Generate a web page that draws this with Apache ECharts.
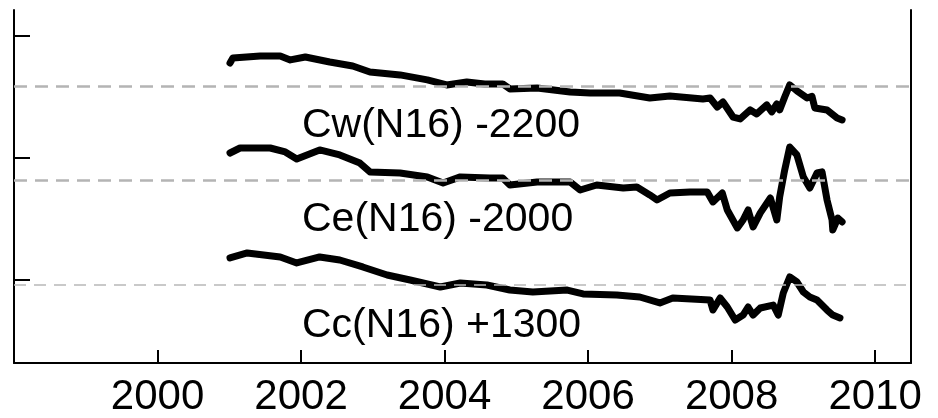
<!DOCTYPE html>
<html>
<head>
<meta charset="utf-8">
<script src="https://cdn.jsdelivr.net/npm/echarts@6/dist/echarts.min.js"></script>
<style>
html,body{margin:0;padding:0;background:#fff;}
#chart{width:938px;height:418px;}
</style>
</head>
<body>
<div id="chart"></div>
<script>
// Series: [decimal year, offset value]
var cwData = [
  [2001.01,277.9],[2001.05,282.0],[2001.43,283.6],[2001.71,283.6],[2001.85,280.4],
  [2002.06,282.8],[2002.40,278.7],[2002.72,275.4],[2002.96,270.5],[2003.38,268.1],
  [2003.76,264.0],[2004.03,259.9],[2004.31,262.3],[2004.56,260.7],[2004.81,260.7],
  [2004.91,256.6],[2005.29,257.4],[2005.75,254.1],[2006.03,253.3],[2006.44,253.3],
  [2006.86,249.2],[2007.14,250.9],[2007.60,248.4],[2007.70,249.2],[2007.80,241.8],
  [2007.88,245.9],[2008.02,233.6],[2008.12,232.0],[2008.26,239.4],[2008.35,236.1],
  [2008.49,243.5],[2008.56,237.8],[2008.63,244.3],[2008.67,239.4],[2008.74,250.0],
  [2008.81,259.9],[2008.91,255.0],[2009.05,249.2],[2009.12,250.5],[2009.16,241.0],
  [2009.33,239.4],[2009.40,236.1],[2009.47,232.8],[2009.54,231.2]
];
var ceData = [
  [2001.01,204.1],[2001.15,208.2],[2001.57,208.2],[2001.78,205.0],[2001.94,199.2],
  [2002.26,206.6],[2002.54,202.5],[2002.82,195.9],[2002.96,188.6],[2003.38,187.7],
  [2003.76,184.5],[2003.98,179.5],[2004.22,184.5],[2004.63,183.6],[2004.81,183.6],
  [2004.91,177.9],[2005.29,180.4],[2005.75,180.4],[2005.89,173.8],[2006.12,177.9],
  [2006.49,175.4],[2006.68,176.3],[2006.86,169.7],[2006.96,165.6],[2007.14,171.3],
  [2007.42,172.2],[2007.66,172.2],[2007.74,164.0],[2007.87,171.3],[2007.94,157.4],
  [2008.08,142.7],[2008.16,149.2],[2008.23,157.4],[2008.30,143.5],[2008.40,155.0],
  [2008.54,167.2],[2008.63,149.2],[2008.67,168.1],[2008.74,190.2],[2008.81,209.0],
  [2008.91,202.5],[2009.00,184.5],[2009.09,175.4],[2009.19,187.7],[2009.26,188.6],
  [2009.33,165.6],[2009.40,149.2],[2009.41,141.0],[2009.48,150.8],[2009.54,147.6]
];
var ccData = [
  [2001.01,118.1],[2001.25,122.2],[2001.71,118.9],[2001.94,114.0],[2002.26,118.9],
  [2002.54,116.4],[2002.86,110.7],[2003.20,104.1],[2003.52,100.0],[2003.94,94.3],
  [2004.22,97.6],[2004.59,95.9],[2004.91,91.8],[2005.23,90.2],[2005.71,91.8],
  [2005.93,88.6],[2006.40,87.7],[2006.72,86.1],[2007.00,81.2],[2007.18,85.3],
  [2007.70,83.6],[2007.74,75.4],[2007.84,85.3],[2007.94,77.9],[2008.05,67.2],
  [2008.16,71.3],[2008.23,77.9],[2008.30,71.3],[2008.40,77.1],[2008.58,79.5],
  [2008.65,71.3],[2008.72,89.4],[2008.81,102.5],[2008.91,98.4],[2009.00,90.2],
  [2009.09,86.1],[2009.19,83.6],[2009.33,75.4],[2009.41,71.3],[2009.51,68.9]
];
var refLevels = [259.0, 182.0, 95.9];
var seriesLabels = ['Cw(N16) -2200', 'Ce(N16) -2000', 'Cc(N16) +1300'];
var yTicks = [100, 200, 300];

var chart = echarts.init(document.getElementById('chart'), null, {renderer: 'canvas'});
var FONT = '"Liberation Sans", Arial, Helvetica, sans-serif';

function lineSeries(data) {
  return {
    type: 'line', data: data, symbol: 'none', silent: true,
    lineStyle: {color: '#000', width: 7, cap: 'round', join: 'round'},
    z: 3
  };
}

var option = {
  animation: false,
  backgroundColor: '#fff',
  grid: {left: 14, right: 27, top: 10, bottom: 55, containLabel: false, outerBoundsMode: 'none'},
  xAxis: {
    type: 'value', min: 1998, max: 2010.5, interval: 2,
    axisLine: {show: true, lineStyle: {color: '#000', width: 2}},
    axisTick: {show: true, inside: true, length: 13, lineStyle: {color: '#000', width: 2}},
    axisLabel: {show: true, showMinLabel: false, color: '#000', fontSize: 42, fontFamily: FONT, margin: 13,
      formatter: function (v) { return String(Math.round(v)); }},
    splitLine: {show: false}
  },
  yAxis: [{
    type: 'value', min: 32, max: 321.3, position: 'left',
    axisLine: {show: true, onZero: false, lineStyle: {color: '#000', width: 2}},
    axisTick: {show: true, inside: true, length: 16, customValues: yTicks, lineStyle: {color: '#000', width: 2}},
    axisLabel: {show: false},
    splitLine: {show: false}
  }, {
    type: 'value', min: 32, max: 321.3, position: 'right',
    axisLine: {show: true, onZero: false, lineStyle: {color: '#000', width: 2}},
    axisTick: {show: false}, axisLabel: {show: false}, splitLine: {show: false}
  }],
  series: [
    lineSeries(cwData),
    lineSeries(ceData),
    lineSeries(ccData),
    {
      type: 'line', data: [], silent: true,
      markLine: {
        symbol: 'none', silent: true, label: {show: false},
        data: [
          {yAxis: refLevels[0], lineStyle: {color: '#b4b4b4', width: 2.5, type: [13, 8]}},
          {yAxis: refLevels[1], lineStyle: {color: '#b4b4b4', width: 2.5, type: [13, 8]}},
          {yAxis: refLevels[2], lineStyle: {color: '#b8b8b8', width: 1.5, type: [12, 8]}}
        ]
      },
      z: 1
    }
  ],
  graphic: [
    {type: 'text', left: 302, top: 105, z: 10, style: {text: seriesLabels[0], fill: '#000', font: '41px ' + FONT}},
    {type: 'text', left: 302, top: 199, z: 10, style: {text: seriesLabels[1], fill: '#000', font: '41px ' + FONT}},
    {type: 'text', left: 302, top: 305, z: 10, style: {text: seriesLabels[2], fill: '#000', font: '41px ' + FONT}}
  ]
};
chart.setOption(option);
</script>
</body>
</html>
